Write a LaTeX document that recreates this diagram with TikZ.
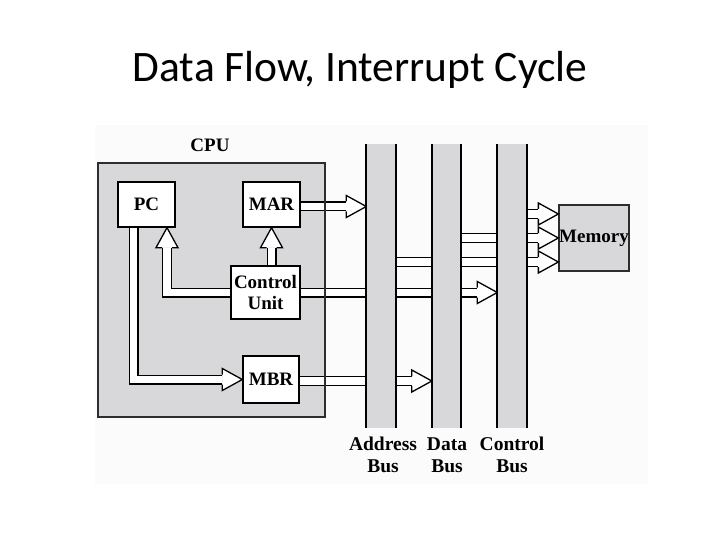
\documentclass[tikz,border=0pt]{standalone}
\usepackage{fontspec}
\setmainfont{Liberation Serif}
\newfontfamily\titlefont{Carlito}
\usetikzlibrary{decorations.markings}
\pgfdeclarelayer{back}
\pgfdeclarelayer{front}
\pgfsetlayers{back,main,front}
\definecolor{boxgray}{RGB}{216,216,219}
\definecolor{edgegray}{RGB}{45,45,45}
\definecolor{figbg}{RGB}{251,251,251}
\tikzset{
  lbl/.style={font=\bfseries\fontsize{19}{21}\selectfont, align=center, inner sep=0pt},
  buslbl/.style={font=\bfseries\fontsize{19.5}{22}\selectfont, align=center, inner sep=0pt, anchor=north},
  regbox/.style={lbl, draw=black, line width=1.4pt, fill=white},
  busbar/.style={fill=boxgray, draw=none, minimum width=29pt, minimum height=284pt, inner sep=0pt},
  busline/.style={draw=black, line width=2.2pt},
  flow/.style={draw=black, line width=1.3pt, double=white, double distance=7.4pt,
    line join=miter, shorten >=20pt, postaction={decorate},
    decoration={markings, mark=at position 1 with {
      \fill[white] (-20pt,-11pt) -- (0pt,0pt) -- (-20pt,11pt) -- cycle;
      \draw[black, line width=1.3pt, line join=miter, shorten >=0pt, shorten <=0pt]
        (-20pt,5pt) -- (-20pt,11pt) -- (0pt,0pt) -- (-20pt,-11pt) -- (-20pt,-5pt);
    }}},
}
\begin{document}
\begin{tikzpicture}[x=1pt, y=-1pt]
\useasboundingbox (0,0) rectangle (720,540);
% title
\node[font=\titlefont\fontsize{43.5}{48}\selectfont, anchor=base, inner sep=0pt] (title) at (360,82) {Data Flow, Interrupt Cycle};
% background and CPU
\begin{pgfonlayer}{back}
  \fill[figbg] (95,125) rectangle (648,484);
  \node[fill=boxgray, draw=none, minimum width=227pt, minimum height=254pt, inner sep=0pt] (cpu) at (211.5,290) {};
\end{pgfonlayer}
\node[lbl, anchor=base] (cpulbl) at (210,152) {CPU};
% registers
\node[regbox, minimum width=57pt, minimum height=45pt] (pc) at (146.5,204.5) {PC};
\node[regbox, minimum width=57pt, minimum height=45pt] (mar) at (271.5,204.5) {MAR};
\node[regbox, minimum width=69pt, minimum height=53pt] (cu) at (265.5,292.5) {Control\\Unit};
\node[regbox, minimum width=56pt, minimum height=47pt] (mbr) at (271,379.5) {MBR};
\node[lbl, draw=edgegray, line width=1.3pt, fill=boxgray, minimum width=70pt, minimum height=66pt] (mem) at (594,238) {Memory};
% buses
\begin{pgfonlayer}{front}
  \draw[draw=edgegray, line width=2.4pt] (cpu.north west) rectangle (cpu.south east);
  \node[busbar] (abus) at (381,286) {};
  \node[busbar] (dbus) at (446.5,286) {};
  \node[busbar] (cbus) at (512,286) {};
  \draw[busline] (abus.north west) -- (abus.south west) (abus.north east) -- (abus.south east);
  \draw[busline] (dbus.north west) -- (dbus.south west) (dbus.north east) -- (dbus.south east);
  \draw[busline] (cbus.north west) -- (cbus.south west) (cbus.north east) -- (cbus.south east);
\end{pgfonlayer}
\node[buslbl] (albl) at (383,437) {\vphantom{Ad}Address\\Bus};
\node[buslbl] (dlbl) at (447,437) {\vphantom{Ad}Data\\Bus};
\node[buslbl] (clbl) at (512,437) {\vphantom{Ad}Control\\Bus};
% memory entry points
\coordinate (m1) at ([yshift=24pt]mem.west);
\coordinate (m2) at (mem.west);
\coordinate (m3) at ([yshift=-24pt]mem.west);
% arrows
\draw[flow] (cu.west) -| ([xshift=20.5pt]pc.south);
\draw[flow] (mar.south |- cu.north) -- (mar.south);
\draw[flow] ([xshift=-13pt]pc.south) |- (mbr.west);
\draw[flow] ([yshift=-2pt]mar.east) -- ([yshift=-2pt]mar.east -| abus.west);
\draw[flow] (cu.east) -- (cu.east -| cbus.west);
\draw[flow] ([yshift=-1.5pt]mbr.east) -- ([yshift=-1.5pt]mbr.east -| dbus.west);
\draw[flow] (abus.center |- m3) -- (m3);
\draw[flow] (dbus.center |- m2) -- (m2);
\draw[flow] (cbus.center |- m1) -- (m1);
\end{tikzpicture}
\end{document}
